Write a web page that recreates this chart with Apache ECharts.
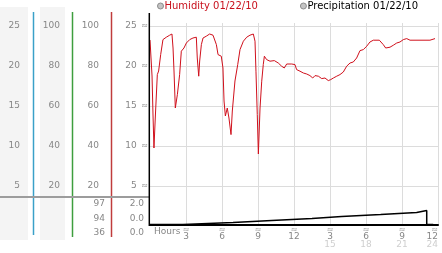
<!DOCTYPE html>
<html><head><meta charset="utf-8">
<script src="https://cdn.jsdelivr.net/npm/echarts@6/dist/echarts.min.js"></script>
<style>html,body{margin:0;padding:0;background:#fff}#c{width:442px;height:253px}</style>
</head><body><div id="c"></div>
<script>
// Humidity (percent) vs hours since midnight
const humHours = [0,0.17,0.25,0.33,0.44,0.61,0.72,0.89,1.08,1.36,1.64,1.83,1.92,2.0,2.11,2.28,2.47,2.61,2.83,3.03,3.31,3.58,3.86,3.94,4.06,4.14,4.28,4.42,4.69,4.97,5.25,5.53,5.67,5.81,5.94,6.08,6.17,6.28,6.39,6.44,6.58,6.75,6.86,7.08,7.31,7.5,7.78,8.06,8.33,8.61,8.75,8.83,8.94,9.03,9.17,9.31,9.44,9.53,9.72,10.0,10.36,10.69,10.97,11.19,11.39,11.81,12.08,12.22,12.5,12.78,13.06,13.33,13.56,13.75,14.03,14.31,14.58,14.86,15.06,15.28,15.56,15.83,16.11,16.39,16.67,16.94,17.22,17.5,17.78,18.06,18.33,18.61,19.11,19.44,19.64,20.0,20.28,20.56,20.83,21.11,21.39,21.67,23.33,23.47,23.75];
const humidity = [93,75,55.5,39,54,75.7,77.5,85.7,93.2,94.4,95.4,96,89,77.5,59,65.7,75.7,87.4,89,91.5,93.2,94,94.4,84,74.9,82.5,90.7,94,94.9,96,95.4,90.7,85.7,86,84.9,79,62.5,55,55.7,59,54,45.7,57.5,72.5,80.7,88.2,92.4,94.4,95.4,96,92.4,77.4,55.7,36,59,72.4,80.7,84.9,83.2,82.4,82.7,81.5,79.9,79,81,81,80.7,78.2,77.4,76.5,76,75.2,74,75.2,74.9,73.7,74,72.7,73.2,74,74.9,75.7,77,79.9,81.5,82,84,87.7,88.2,89.9,92,92.9,92.9,90.7,89,89.4,90.4,91.5,92,93.2,93.7,92.9,92.9,93.7,93.7];
// Cumulative precipitation
const precipHours = [0,2.75,6.92,10.14,13.5,15.97,19.22,22.22,23.06,23.6];
const precipValues = [0,0.01,0.02,0.03,0.04,0.05,0.06,0.07,0,0];
// Tick labels
const humTicks = [20,40,60,80,100];
const bottomLabelsA = ['97','94','36'];
const bottomLabelsB = ['2.0','0.0','0.0'];
const legendNames = ['Humidity 01/22/10','Precipitation 01/22/10'];

const FONT = 'DejaVu Sans';
const LBL = '#878787';
const chart = echarts.init(document.getElementById('c'), null, {renderer:'canvas'});

function tickLabel(div, withMark){
  return function(v){
    if (humTicks.indexOf(v) < 0) return '';
    const s = String(v/div);
    return withMark ? '{v|' + s + '\u2002}{t|\u2248}' : s;
  };
}
function leftAxis(offset, margin, div, withMark){
  return {
    type:'value', gridIndex:0, position:'left', offset:offset,
    min:0, max:101.5, interval:20,
    axisLine:{show:false}, axisTick:{show:false},
    splitLine:{show: offset===0, showMinLine:false, showMaxLine:false, lineStyle:{color:'#dcdcdc', width:1}},
    axisLabel:{margin:margin, color:LBL, fontSize:9, fontFamily:FONT,
      showMinLabel:false, showMaxLabel:false,
      formatter: tickLabel(div, withMark),
      rich:{
        v:{fontSize:9, color:LBL, fontFamily:FONT},
        t:{fontSize:8, color:'#8a8a8a', fontFamily:FONT}
      }}
  };
}

const graphics = [
  {type:'rect', z:-10, silent:true, shape:{x:0,y:7,width:28,height:233}, style:{fill:'#f4f4f4'}},
  {type:'rect', z:-10, silent:true, shape:{x:40,y:7,width:25,height:233}, style:{fill:'#f4f4f4'}},
  {type:'line', silent:true, shape:{x1:33.5,y1:12,x2:33.5,y2:235}, style:{stroke:'#3aa0c8', lineWidth:1.5}},
  {type:'line', silent:true, shape:{x1:72.5,y1:12,x2:72.5,y2:237}, style:{stroke:'#3e9e3e', lineWidth:1.5}},
  {type:'line', silent:true, shape:{x1:111.5,y1:12,x2:111.5,y2:237}, style:{stroke:'#c03c3c', lineWidth:1.5}},
  {type:'line', silent:true, shape:{x1:0,y1:197,x2:149,y2:197}, style:{stroke:'#9c9c9c', lineWidth:2}},
  {type:'line', silent:true, z:10, shape:{x1:149.3,y1:13,x2:149.3,y2:226}, style:{stroke:'#000', lineWidth:1.5}},
  {type:'text', silent:true, style:{x:154, y:232, text:'Hours', fill:LBL, font:'9px "DejaVu Sans"', verticalAlign:'middle'}}
];
const rowsY = [204, 218.3, 232.5];
bottomLabelsA.forEach((t,i)=>graphics.push({type:'text', silent:true, style:{x:105, y:rowsY[i], text:t, fill:LBL, font:'9px "DejaVu Sans"', align:'right', verticalAlign:'middle'}}));
bottomLabelsB.forEach((t,i)=>graphics.push({type:'text', silent:true, style:{x:144, y:rowsY[i], text:t, fill:LBL, font:'9px "DejaVu Sans"', align:'right', verticalAlign:'middle'}}));

chart.setOption({
  animation:false,
  backgroundColor:'#fff',
  textStyle:{fontFamily:FONT},
  grid:[{left:150, right:4, top:23, bottom:27, containLabel:false}],
  legend:{
    left:157, top:1, padding:0, icon:'circle', itemWidth:6, itemHeight:6, itemGap:42,
    selectedMode:false,
    textStyle:{fontSize:10, fontFamily:FONT, padding:[0,0,0,-4]},
    data:[
      {name:legendNames[0], itemStyle:{color:'#c4c4c4', borderColor:'#8c8c8c', borderWidth:1}, textStyle:{color:'#c8101c', padding:[0,0,0,-4]}},
      {name:legendNames[1], itemStyle:{color:'#c4c4c4', borderColor:'#8c8c8c', borderWidth:1}, textStyle:{color:'#000', padding:[0,0,0,-4]}}
    ]
  },
  xAxis:[{
    type:'value', gridIndex:0, min:0, max:24, interval:3, offset:-1,
    axisLine:{show:true, lineStyle:{color:'#000', width:2}},
    axisTick:{show:false},
    splitLine:{show:true, showMinLine:false, lineStyle:{color:'#dcdcdc', width:1}},
    axisLabel:{margin:2, showMinLabel:false, alignMaxLabel:'right', color:LBL, fontSize:9, fontFamily:FONT,
      formatter:function(v){
        if (v===0) return '';
        if (v>12) return '{t|\u2248}\n{n|'+(v-12)+'}\n{m|'+v+'}';
        return '{t|\u2248}\n{n|'+v+'}';
      },
      rich:{
        t:{fontSize:8, color:'#999', lineHeight:6, fontFamily:FONT},
        n:{fontSize:9, color:LBL, lineHeight:7, fontFamily:FONT},
        m:{fontSize:9, color:'#cfcfcf', lineHeight:9, fontFamily:FONT}
      }}
  }],
  yAxis:[
    leftAxis(0, 2, 4, true),
    leftAxis(39, 12, 1, false),
    leftAxis(78, 12, 1, false),
    leftAxis(117, 13, 4, false),
    {type:'value', gridIndex:0, show:false, min:-0.008, max:1.007, splitLine:{show:false}}
  ],
  graphic: graphics,
  series:[
    {name:legendNames[0], type:'line', xAxisIndex:0, yAxisIndex:0, showSymbol:false, symbol:'none',
      lineStyle:{color:'#d0101c', width:1}, itemStyle:{color:'#d0101c'},
      data: humHours.map((h,i)=>[h, humidity[i]]), z:3},
    {name:legendNames[1], type:'line', xAxisIndex:0, yAxisIndex:4, showSymbol:false, symbol:'none', step:'end',
      lineStyle:{color:'#000', width:1.5}, itemStyle:{color:'#000'},
      data: precipHours.map((h,i)=>[h, precipValues[i]]), z:4}
  ]
});
</script></body></html>
